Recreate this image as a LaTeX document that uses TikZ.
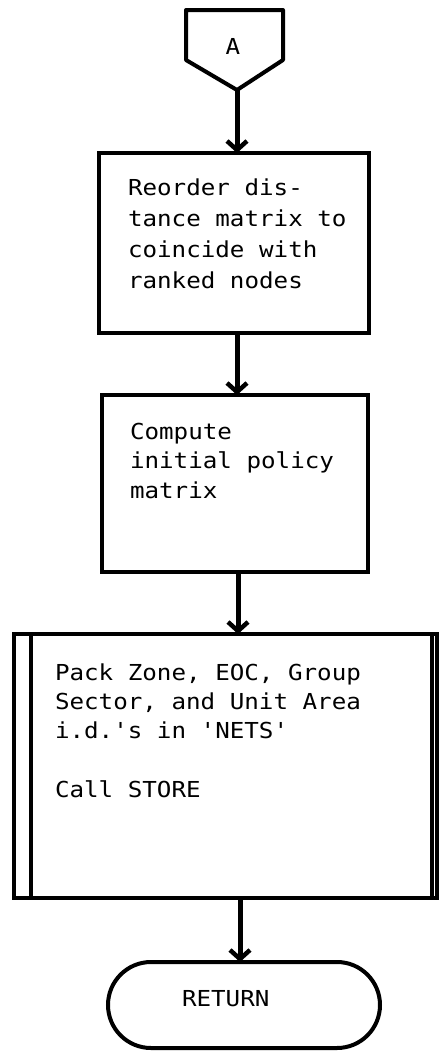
\documentclass[tikz,border=0pt]{standalone}
\usepackage{fontspec}
\newfontfamily\flowfont[FakeStretch=1.1]{DejaVu Sans Mono}
\usetikzlibrary{arrows.meta,shapes.misc}
\begin{document}
\begin{tikzpicture}[x=1pt,y=-1pt,
  every node/.style={inner sep=0pt,outer sep=0pt},
  boxline/.style={draw=black,line width=4pt},
  procbox/.style={boxline,rectangle},
  flowtext/.style={font=\flowfont\fontsize{22}{29.25}\selectfont,align=left,anchor=base west},
  flowarrow/.style={line width=5pt,-{Straight Barb[length=9pt,width=20pt,line width=4.5pt]}}]
\useasboundingbox[fill=white] (0,0) rectangle (439,1053);

% off-page connector A
\draw[boxline,line join=round] (186,10) -- (283,10) -- (283,60) -- (237,90) -- (186,60) -- cycle;
\coordinate (Apt) at (237,90);
\node[font=\flowfont\fontsize{22}{30}\selectfont] (Alabel) at (233,46) {A};

% step 1 (node base sits on the last text line)
\node[procbox,minimum width=270pt,minimum height=180pt] (b1) at (234,243) {};
\node[flowtext,font=\flowfont\fontsize{22}{31}\selectfont] (t1) at (128,288) {Reorder dis-\\tance matrix to\\coincide with\\ranked nodes};

% step 2
\node[procbox,minimum width=266pt,minimum height=177pt] (b2) at (235,483.5) {};
\node[flowtext] (t2) at (130,498) {Compute\\initial policy\\matrix};

% predefined process
\node[procbox,minimum width=423pt,minimum height=264pt] (b3) at (225.5,766) {};
\draw[boxline] ([xshift=17pt]b3.north west) -- ([xshift=17pt]b3.south west);
\draw[boxline] ([xshift=-5pt]b3.north east) -- ([xshift=-5pt]b3.south east);
\node[flowtext] (t3) at (55,797) {Pack Zone, EOC, Group\\Sector, and Unit Area\\i.d.'s in 'NETS'\\\mbox{}\\Call STORE};

% terminator
\node[boxline,rounded rectangle,minimum width=272pt,minimum height=86pt] (ret) at (244,1005) {};
\node[flowtext] (t4) at (182,1006) {RETURN};

% flow lines
\draw[flowarrow] (Apt) -- (Apt |- b1.north);
\draw[flowarrow] (b1.south -| 237,0) -- (237,395);
\draw[flowarrow] (b2.south -| 238,0) -- (238,634);
\draw[flowarrow] (b3.south -| 240,0) -- (240,962);
\end{tikzpicture}
\end{document}
